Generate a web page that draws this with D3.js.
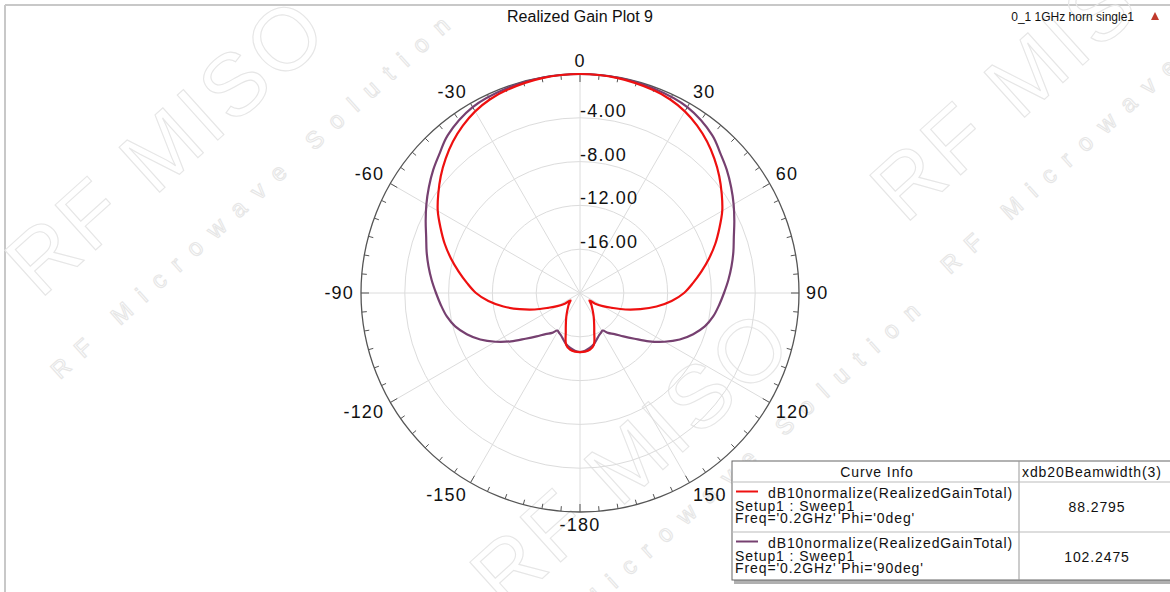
<!DOCTYPE html>
<html>
<head>
<meta charset="utf-8">
<script src="https://cdn.jsdelivr.net/npm/d3@7"></script>
<style>
  html, body { margin: 0; padding: 0; background: #fff; }
  svg { display: block; font-family: Arial, "Liberation Sans", sans-serif; }
</style>
</head>
<body>
<div id="chart"></div>
<script>
// Phi = 0deg curve (right half, mirrored for the left half)
const redAngles = [0, 10, 20, 25, 30, 35, 40, 45, 50, 55, 60, 65, 70, 75, 80, 85, 90, 95, 100, 105, 110, 115, 120, 125, 128, 132, 136, 140, 145, 150, 155, 160, 165, 170, 175, 180]
const redGain = [0, -0.08, -0.3, -0.5, -0.85, -1.35, -1.95, -2.65, -3.4, -4.2, -5.0, -5.95, -6.85, -7.8, -8.75, -9.65, -10.5, -11.6, -12.9, -14.3, -15.6, -16.8, -17.6, -18.3, -18.9, -18.75, -18.5, -18.3, -17.95, -17.5, -16.95, -16.2, -15.1, -14.75, -14.62, -14.6]

// Phi = 90deg curve
const purpleAngles = [0, 10, 20, 30, 40, 45, 50, 55, 60, 65, 70, 75, 80, 85, 90, 95, 100, 105, 110, 115, 120, 125, 130, 135, 140, 145, 149, 152, 156, 160, 165, 170, 175, 180]
const purpleGain = [0, -0.04, -0.15, -0.4, -1.2, -1.9, -2.5, -3.15, -3.8, -4.45, -5.05, -5.5, -5.95, -6.4, -6.85, -7.25, -7.65, -8.2, -9.0, -9.95, -11.1, -12.3, -13.5, -14.4, -15.1, -15.55, -16.0, -15.9, -15.75, -15.5, -15.15, -14.9, -14.7, -14.6]

const ringValues = [-16, -12, -8, -4]
const angleLabels = [0, 30, 60, 90, 120, 150, -180, -150, -120, -90, -60, -30]

const curveInfo = [
  { name: 'dB10normalize(RealizedGainTotal)', setup: 'Setup1 : Sweep1', freq: "Freq='0.2GHz' Phi='0deg'", value: '88.2795', color: '#ee1010' },
  { name: 'dB10normalize(RealizedGainTotal)', setup: 'Setup1 : Sweep1', freq: "Freq='0.2GHz' Phi='90deg'", value: '102.2475', color: '#764070' }
]

const width = 1170
const height = 592
const cx = 580, cy = 293, R = 219
const rad = d => d * Math.PI / 180

const svg = d3.select('#chart').append('svg').attr('width', width).attr('height', height)

// frame lines
svg.append('line').attr('x1', 5).attr('x2', width).attr('y1', 5).attr('y2', 5).attr('stroke', '#c8c8c8').attr('stroke-width', 2)
svg.append('line').attr('x1', 5).attr('x2', 5).attr('y1', 5).attr('y2', height).attr('stroke', '#c8c8c8').attr('stroke-width', 2)

// faint watermark
const wm = svg.append('g').attr('fill', 'none').attr('stroke', '#e6e6e6').attr('stroke-width', 1.1)
const marks = [
  { x: 505, y: 612, size: 88, text: 'RF MISO', sp: 4 },
  { x: 590, y: 612, size: 24, text: 'Microwave Solution', sp: 14 },
  { x: 40, y: 300, size: 88, text: 'RF MISO', sp: 4 },
  { x: 60, y: 380, size: 24, text: 'RF Microwave Solution', sp: 14 },
  { x: 905, y: 225, size: 88, text: 'RF MISO', sp: 4 },
  { x: 950, y: 275, size: 24, text: 'RF Microwave', sp: 14 }
]
marks.forEach(m => {
  wm.append('text')
    .attr('transform', `translate(${m.x},${m.y}) rotate(-42)`)
    .attr('font-size', m.size)
    .attr('letter-spacing', m.sp)
    .text(m.text)
})

// titles
svg.append('text').attr('x', cx).attr('y', 22).attr('text-anchor', 'middle')
  .attr('font-size', 16).attr('fill', '#111').text('Realized Gain Plot 9')
svg.append('text').attr('x', 1134).attr('y', 21).attr('text-anchor', 'end')
  .attr('font-size', 12).attr('fill', '#111').text('0_1 1GHz horn single1')
svg.append('path').attr('d', 'M1155,12 L1159,20 L1151,20 Z').attr('fill', '#c0392b')

const r = d3.scaleLinear().domain([-20, 0]).range([0, R]).clamp(true)

const plot = svg.append('g').attr('transform', `translate(${cx},${cy})`)

// grid rings
plot.append('g').selectAll('circle').data(ringValues).join('circle')
  .attr('r', d => r(d)).attr('fill', 'none').attr('stroke', '#dcdcdc').attr('stroke-width', 1)

// spokes every 30 deg
const spokes = d3.range(0, 360, 30)
plot.append('g').selectAll('line').data(spokes).join('line')
  .attr('x1', 0).attr('y1', 0)
  .attr('x2', d => R * Math.sin(rad(d))).attr('y2', d => -R * Math.cos(rad(d)))
  .attr('stroke', '#dcdcdc').attr('stroke-width', 1)

// outer circle + ticks
plot.append('circle').attr('r', R).attr('fill', 'none').attr('stroke', '#555').attr('stroke-width', 1.3)
const ticks = d3.range(0, 360, 5)
plot.append('g').selectAll('line').data(ticks).join('line')
  .attr('x1', d => R * Math.sin(rad(d))).attr('y1', d => -R * Math.cos(rad(d)))
  .attr('x2', d => (R - (d % 30 === 0 ? 8 : 5)) * Math.sin(rad(d)))
  .attr('y2', d => -(R - (d % 30 === 0 ? 8 : 5)) * Math.cos(rad(d)))
  .attr('stroke', '#555').attr('stroke-width', 1)

// angle labels, box pushed outward by its own size
const angleText = plot.append('g').selectAll('text').data(angleLabels).join('text')
  .attr('dy', '0.36em')
  .attr('text-anchor', 'middle')
  .attr('font-size', 18).attr('letter-spacing', 1.2).attr('fill', '#111')
  .text(d => String(d))
angleText.each(function (d) {
  const w = this.getComputedTextLength()
  const s = Math.sin(rad(d)), c = Math.cos(rad(d))
  const sx = Math.abs(s) > 0.1 ? Math.sign(s) : 0
  const sy = Math.abs(c) > 0.1 ? Math.sign(c) : 0
  d3.select(this)
    .attr('x', 226 * s + sx * w / 2)
    .attr('y', -226 * c - sy * 6)
})

// ring labels
plot.append('g').selectAll('text').data(ringValues).join('text')
  .attr('x', 0).attr('y', d => -r(d) - 1)
  .attr('font-size', 18).attr('letter-spacing', 1.2).attr('fill', '#111')
  .text(d => d.toFixed(2))

// closed curve from half data (pattern mirrored about 0 deg)
const mirror = (angles, gains) => {
  const pts = []
  for (let i = angles.length - 1; i > 0; i--) pts.push([-angles[i], gains[i]])
  for (let i = 0; i < angles.length; i++) pts.push([angles[i], gains[i]])
  return pts
}

const line = d3.lineRadial()
  .angle(d => rad(d[0]))
  .radius(d => r(d[1]))
  .curve(d3.curveCatmullRom.alpha(0.5))

plot.append('path').datum(mirror(purpleAngles, purpleGain))
  .attr('d', line).attr('fill', 'none').attr('stroke', curveInfo[1].color).attr('stroke-width', 2.2)
plot.append('path').datum(mirror(redAngles, redGain))
  .attr('d', line).attr('fill', 'none').attr('stroke', curveInfo[0].color).attr('stroke-width', 2.2)

// legend table
const lx = 732, ly = 461, lw = 460
const rowY = [482, 532, 580]
const lg = svg.append('g')
lg.append('rect').attr('x', lx + 2).attr('y', ly + 4).attr('width', lw).attr('height', rowY[2] - ly)
  .attr('fill', '#b0b0b0')
lg.append('rect').attr('x', lx).attr('y', ly).attr('width', lw).attr('height', rowY[2] - ly)
  .attr('fill', '#fff').attr('stroke', '#666').attr('stroke-width', 1)
lg.append('line').attr('x1', 1019).attr('x2', 1019).attr('y1', ly).attr('y2', rowY[2]).attr('stroke', '#999')
lg.selectAll('line.row').data(rowY.slice(0, 2)).join('line').attr('class', 'row')
  .attr('x1', lx).attr('x2', lx + lw).attr('y1', d => d).attr('y2', d => d).attr('stroke', '#bbb')

const lgText = lg.append('g').attr('font-size', 14).attr('letter-spacing', 0.9).attr('fill', '#111')
lgText.append('text').attr('x', 877).attr('y', 477).attr('text-anchor', 'middle').text('Curve Info')
lgText.append('text').attr('x', 1022).attr('y', 477).text('xdb20Beamwidth(3)')

curveInfo.forEach((c, i) => {
  const top = rowY[i]
  lgText.append('line').attr('x1', 736).attr('x2', 758).attr('y1', top + 9.5).attr('y2', top + 9.5)
    .attr('stroke', c.color).attr('stroke-width', 2)
  lgText.append('text').attr('x', 768).attr('y', top + 16).text(c.name)
  lgText.append('text').attr('x', 735).attr('y', top + 29).text(c.setup)
  lgText.append('text').attr('x', 735).attr('y', top + 41).text(c.freq)
  lgText.append('text').attr('x', 1097).attr('y', top + 30).attr('text-anchor', 'middle').text(c.value)
})
</script>
</body>
</html>
